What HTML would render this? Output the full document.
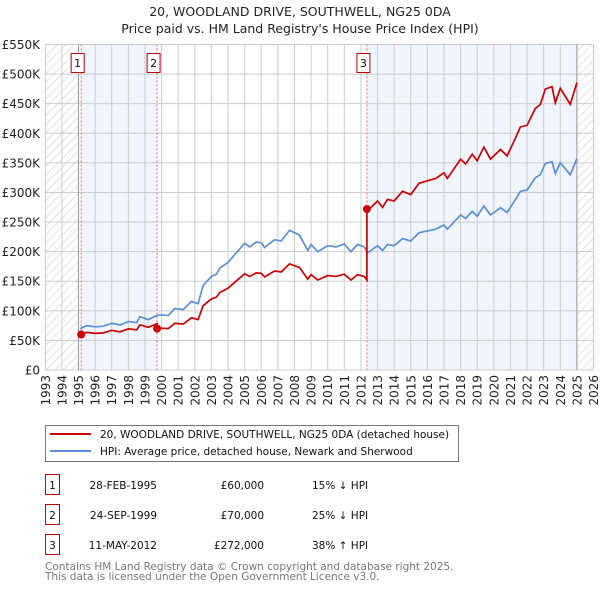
<!DOCTYPE html>
<html><head><meta charset="utf-8">
<style>
body{margin:0;background:#fff;font-family:"DejaVu Sans","Liberation Sans",sans-serif;}
svg text{font-family:"DejaVu Sans","Liberation Sans",sans-serif;}
</style></head>
<body>
<svg id="chart" width="600" height="590" xmlns="http://www.w3.org/2000/svg">
<defs>
<pattern id="hatch" patternUnits="userSpaceOnUse" width="6" height="6" patternTransform="rotate(45)">
<line x1="0" y1="0" x2="0" y2="6" stroke="#bbb" stroke-width="0.8"/>
</pattern>
</defs>
<text x="300" y="16" font-size="12.5" text-anchor="middle" fill="#222">20, WOODLAND DRIVE, SOUTHWELL, NG25 0DA</text>
<text x="300" y="33" font-size="12.5" text-anchor="middle" fill="#222">Price paid vs. HM Land Registry's House Price Index (HPI)</text>
<g id="plot"></g>
<g>
<rect x="45.5" y="425.5" width="413" height="36" fill="#fff" stroke="#777"/>
<line x1="50" y1="434" x2="91" y2="434" stroke="#cc0000" stroke-width="2"/>
<text x="100" y="438" font-size="10.5" fill="#111">20, WOODLAND DRIVE, SOUTHWELL, NG25 0DA (detached house)</text>
<line x1="50" y1="451" x2="91" y2="451" stroke="#5b8fd4" stroke-width="2"/>
<text x="100" y="455" font-size="10.5" fill="#111">HPI: Average price, detached house, Newark and Sherwood</text>
</g>
<g id="table" font-size="10.5" fill="#111"></g>
<text x="45" y="570" font-size="10.5" fill="#777">Contains HM Land Registry data © Crown copyright and database right 2025.</text>
<text x="45" y="580" font-size="10.5" fill="#777">This data is licensed under the Open Government Licence v3.0.</text>
</svg>
<script>
const hpiYears=[1995.1,1995.5,1996,1996.5,1997,1997.5,1998,1998.5,1998.7,1999.2,1999.7,2000,2000.4,2000.8,2001.3,2001.8,2002.2,2002.5,2003,2003.3,2003.5,2004,2004.5,2005,2005.3,2005.7,2006,2006.2,2006.8,2007.2,2007.7,2008,2008.3,2008.8,2009,2009.4,2010,2010.5,2011,2011.4,2011.8,2012.2,2012.4,2013,2013.3,2013.6,2014,2014.5,2015,2015.5,2016,2016.5,2017,2017.2,2018,2018.3,2018.7,2019,2019.4,2019.8,2020.4,2020.8,2021.3,2021.6,2022,2022.5,2022.8,2023.1,2023.5,2023.7,2024,2024.3,2024.6,2025];
const hpiValues=[70000,75000,73000,74000,79000,76000,82000,80000,90000,85000,92000,93000,92000,104000,102000,116000,112000,143000,158000,162000,172000,182000,198000,214000,208000,216000,215000,207000,220000,218000,236000,232000,228000,202000,212000,200000,210000,208000,213000,200000,212000,208000,198000,210000,202000,212000,210000,222000,218000,232000,235000,238000,245000,238000,262000,256000,268000,260000,277000,262000,274000,266000,288000,302000,304000,325000,330000,349000,352000,332000,350000,340000,330000,357000];
const saleYears=[1995.16,1999.73,2012.36];
const salePrices=[60000,70000,272000];
const saleLabels=["1","2","3"];
const saleDates=["28-FEB-1995","24-SEP-1999","11-MAY-2012"];
const salePriceText=["£60,000","£70,000","£272,000"];
const saleHpiText=["15% ↓ HPI","25% ↓ HPI","38% ↑ HPI"];
const yTicks=[0,50000,100000,150000,200000,250000,300000,350000,400000,450000,500000,550000];
const yTickLabels=["£0","£50K","£100K","£150K","£200K","£250K","£300K","£350K","£400K","£450K","£500K","£550K"];
const xTicks=[1993,1994,1995,1996,1997,1998,1999,2000,2001,2002,2003,2004,2005,2006,2007,2008,2009,2010,2011,2012,2013,2014,2015,2016,2017,2018,2019,2020,2021,2022,2023,2024,2025,2026];

const NS="http://www.w3.org/2000/svg";
const X0=45.3,X1=593.5,Y0=370,Y1=44.5;
const xs=y=>X0+(y-1993)/(2026-1993)*(X1-X0);
const ys=v=>Y0-v/550000*(Y0-Y1);
const plot=document.getElementById('plot');
function mk(tag,attrs,parent){const e=document.createElementNS(NS,tag);for(const k in attrs)e.setAttribute(k,attrs[k]);(parent||plot).appendChild(e);return e;}
function hpiAt(t){if(t<=hpiYears[0])return hpiValues[0];for(let i=1;i<hpiYears.length;i++){if(t<=hpiYears[i]){const f=(t-hpiYears[i-1])/(hpiYears[i]-hpiYears[i-1]);return hpiValues[i-1]+f*(hpiValues[i]-hpiValues[i-1]);}}return hpiValues[hpiValues.length-1];}

let r=mk('rect',{x:xs(1993),y:Y1,width:xs(1995)-xs(1993),height:Y0-Y1,fill:'url(#hatch)'});


r=mk('rect',{x:xs(2025),y:Y1,width:xs(2026)-xs(2025),height:Y0-Y1,fill:'url(#hatch)'});


r=mk('rect',{x:xs(saleYears[0]),y:Y1,width:xs(saleYears[1])-xs(saleYears[0]),height:Y0-Y1,fill:'#eef3fd',opacity:0.8});


r=mk('rect',{x:xs(saleYears[2]),y:Y1,width:xs(2025)-xs(saleYears[2]),height:Y0-Y1,fill:'#eef3fd',opacity:0.8});



yTicks.forEach((v,i)=>{
 const l=mk('line',{x1:X0,x2:X1,y1:ys(v),y2:ys(v),stroke:'#ccc','stroke-width':1});
 
 
 const t=mk('text',{x:40,y:ys(v)+4.5,'font-size':12,'text-anchor':'end',fill:'#222'});
 
 
 t.textContent=yTickLabels[i];
});
xTicks.forEach(yr=>{
 const l=mk('line',{x1:xs(yr),x2:xs(yr),y1:Y1,y2:Y0,stroke:'#ccc','stroke-width':1});
 
 
 const t=mk('text',{x:0,y:0,'font-size':12,'text-anchor':'end',fill:'#222',transform:`translate(${xs(yr)+4.5},375) rotate(-90)`});
 
 
 t.textContent=yr;
});
let l=mk('line',{x1:xs(1995),x2:xs(1995),y1:Y1,y2:Y0,stroke:'#999','stroke-width':1});


l=mk('line',{x1:xs(2025),x2:xs(2025),y1:Y1,y2:Y0,stroke:'#999','stroke-width':1});



saleYears.forEach((yr,i)=>{
 const d=mk('line',{x1:xs(yr),x2:xs(yr),y1:Y1,y2:Y0,stroke:'#e66','stroke-width':1,'stroke-dasharray':'2,2'});
 
 
});

let pts=hpiYears.map((t,i)=>xs(t)+','+ys(hpiValues[i]));
let p=mk('polyline',{points:pts.join(' '),fill:'none',stroke:'#5b8fd4','stroke-width':1.7});



let rp=[];
for(let s=0;s<saleYears.length;s++){
 const ratio=salePrices[s]/hpiAt(saleYears[s]);
 const end=s+1<saleYears.length?saleYears[s+1]:2025;
 rp.push(xs(saleYears[s])+','+ys(salePrices[s]));
 hpiYears.forEach((t,i)=>{if(t>saleYears[s]&&t<end)rp.push(xs(t)+','+ys(hpiValues[i]*ratio));});
 rp.push(xs(end)+','+ys(hpiAt(end)*ratio));
}
p=mk('polyline',{points:rp.join(' '),fill:'none',stroke:'#cc0000','stroke-width':1.7});



saleYears.forEach((yr,i)=>{
 const c=mk('circle',{cx:xs(yr),cy:ys(salePrices[i]),r:4,fill:'#cc0000'});
 
 
 const bx=xs(yr)-10;
 const b=mk('rect',{x:bx,y:53.5,width:13,height:19,fill:'#fff',stroke:'#b00','stroke-width':1});
 
 
 const t=mk('text',{x:bx+6.5,y:67,'font-size':11,'text-anchor':'middle',fill:'#111'});
 
 
 t.textContent=saleLabels[i];
});

const tb=document.getElementById('table');
saleLabels.forEach((lab,i)=>{
 const y=483+i*30;
 const b=mk('rect',{x:45.5,y:y-8.5,width:14,height:20,fill:'#fff',stroke:'#b00'},tb);
 
 
 let t=mk('text',{x:52.5,y:y+6,'text-anchor':'middle'},tb);t.textContent=lab;
 
 
 t=mk('text',{x:157,y:y+6,'text-anchor':'end'},tb);t.textContent=saleDates[i];
 
 
 t=mk('text',{x:264,y:y+6,'text-anchor':'end'},tb);t.textContent=salePriceText[i];
 
 
 t=mk('text',{x:312,y:y+6},tb);t.textContent=saleHpiText[i];
 
 
});
</script>
</body></html>
